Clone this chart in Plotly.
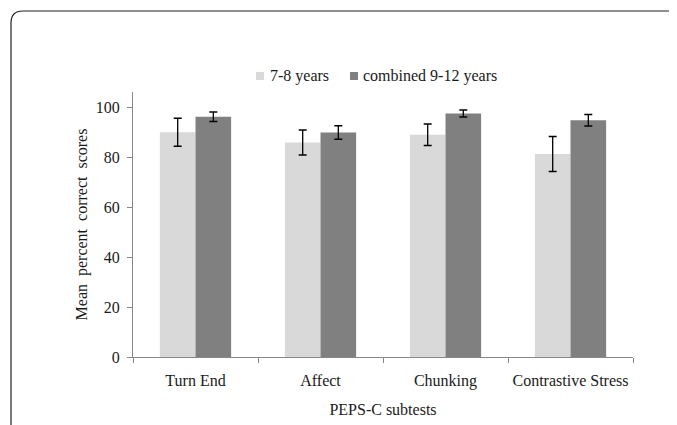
import plotly.graph_objects as go

categories = ["Turn End", "Affect", "Chunking", "Contrastive Stress"]
young_means = [89.9, 85.8, 88.9, 81.2]
young_err = [5.6, 5.0, 4.3, 7.0]
older_means = [96.1, 89.8, 97.4, 94.7]
older_err = [1.9, 2.7, 1.4, 2.3]
series_names = ["7-8 years", "combined 9-12 years"]
series_colors = ["#D9D9D9", "#808080"]
y_ticks = [0, 20, 40, 60, 80, 100]

FONT = "Liberation Serif"
TXT = "#1a1a1a"
FS = 16

fig = go.Figure()
for name, vals, errs, col in zip(series_names, [young_means, older_means],
                                  [young_err, older_err], series_colors):
    fig.add_trace(go.Bar(
        name=name, x=categories, y=vals,
        marker=dict(color=col, line=dict(width=0)),
        error_y=dict(type="data", array=errs, visible=True,
                     color="#000000", thickness=1.3, width=4),
        showlegend=False,
    ))

fig.update_layout(
    width=669, height=417,
    margin=dict(l=125, r=44, t=84, b=68, autoexpand=False),
    paper_bgcolor="white", plot_bgcolor="white",
    barmode="group", bargap=0.43, bargroupgap=0,
    font=dict(family=FONT, size=FS, color=TXT),
)
fig.update_xaxes(
    showline=True, linecolor="#888888", linewidth=1,
    ticks="outside", tickson="boundaries", ticklen=5, tickcolor="#888888",
    ticklabelstandoff=9, tickangle=0, automargin=False,
    showgrid=False,
    tickfont=dict(family=FONT, size=FS, color=TXT),
    title=dict(text="PEPS-C subtests", font=dict(family=FONT, size=FS, color=TXT), standoff=14),
)
fig.update_yaxes(
    range=[0, 106], tickvals=y_ticks,
    showline=True, linecolor="#888888", linewidth=1,
    ticks="outside", ticklen=5, tickcolor="#888888",
    ticklabelstandoff=4, automargin=False,
    showgrid=False, zeroline=False,
    tickfont=dict(family=FONT, size=FS, color=TXT),
    title=dict(text="Mean  percent  correct  scores", font=dict(family=FONT, size=FS, color=TXT), standoff=4),
)

# manual legend (small squares + labels), matching the reference layout
legend_sq_x = [(0.246, 0.262), (0.434, 0.450)]
legend_txt_x = [0.270, 0.456]
for name, col, (x0, x1), tx in zip(series_names, series_colors, legend_sq_x, legend_txt_x):
    fig.add_shape(type="rect", xref="paper", yref="paper",
                  x0=x0, x1=x1, y0=1.0453, y1=1.0755,
                  fillcolor=col, line=dict(width=0))
    fig.add_annotation(xref="paper", yref="paper", x=tx, y=1.0604,
                       xanchor="left", yanchor="middle", showarrow=False,
                       text=name, font=dict(family=FONT, size=FS, color=TXT))

# outer rounded frame (top-left corner visible)
fig.add_shape(
    type="path", xref="paper", yref="paper",
    path="M -0.244,-0.3 L -0.244,1.2604 Q -0.244,1.3057 -0.22,1.3057 L 1.2,1.3057",
    line=dict(color="#222222", width=1.2), layer="above",
)

fig.write_html("out.html")
